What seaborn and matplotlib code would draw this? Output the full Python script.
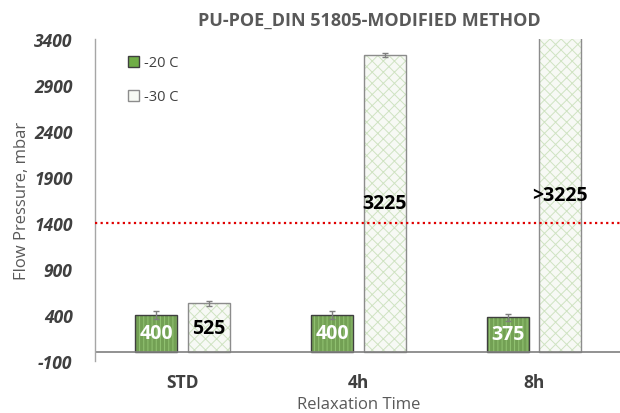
import pandas as pd
import seaborn as sns
import matplotlib.pyplot as plt
from matplotlib.patches import Patch, Rectangle

times = ["STD", "4h", "8h"]
temps = ["-20 C", "-30 C"]
p20 = [400, 400, 375]
p30 = [525, 3225, 3500]  # 8h bar runs off the top of the scale
err20 = [40, 40, 40]
err30 = [25, 20, 0]
labels20 = ["400", "400", "375"]
labels30 = ["525", "3225", ">3225"]
limit = 1400

df = pd.DataFrame({
    "time": times * 2,
    "temp": [temps[0]] * 3 + [temps[1]] * 3,
    "pressure": p20 + p30,
})

sns.set_style("white")
plt.rcParams["font.family"] = ["Open Sans", "DejaVu Sans"]
plt.rcParams["axes.unicode_minus"] = False
plt.rcParams["hatch.linewidth"] = 0.7

fig = plt.figure(figsize=(6.2, 4.14), dpi=100)
ax = fig.add_axes([0.153, 0.126, 0.85, 0.777])

fill = {"-20 C": "#70AD47", "-30 C": "#F7FAF4"}
sns.barplot(data=df, x="time", y="pressure", hue="temp", palette=fill,
            width=0.6, gap=0.2, legend=False, ax=ax)

# hatch takes the edge colour, so the outline is drawn as a separate rectangle
styles = [("#3F3F3F", "#93C472", "||||"), ("#8C8C8C", "#CFE3C2", "xxx")]
for cont, (ec, hc, hatch) in zip(ax.containers, styles):
    for p in cont:
        p.set_edgecolor(hc)
        p.set_linewidth(0)
        p.set_hatch(hatch)
        ax.add_patch(Rectangle((p.get_x(), p.get_y()), p.get_width(), p.get_height(),
                               fill=False, edgecolor=ec, linewidth=1.0, zorder=p.get_zorder() + 0.1))

# error bars on top of each bar
for cont, errs in zip(ax.containers, [err20, err30]):
    xs = [p.get_x() + p.get_width() / 2 for p in cont]
    ys = [p.get_height() for p in cont]
    ax.errorbar(xs, ys, yerr=errs, fmt="none", ecolor="#7F7F7F",
                elinewidth=1, capsize=2.5, capthick=1, zorder=5)

ax.bar_label(ax.containers[0], labels=labels20, label_type="center",
             color="white", fontsize=14, fontweight="bold")
# the clipped bar gets its label centred on the visible part
for p, lab in zip(ax.containers[1], labels30):
    top = min(p.get_height(), 3400)
    ax.text(p.get_x() + p.get_width() / 2, top / 2, lab, ha="center", va="center",
            color="black", fontsize=14, fontweight="bold", zorder=6)

ax.axhline(limit, color="#E00000", ls=(0, (1, 1.5)), lw=1.6, zorder=4)
ax.axhline(0, color="#7F7F7F", lw=1.2)

ax.set_ylim(-100, 3400)
ax.set_yticks(range(-100, 3401, 500))
ax.set_xlim(-0.5, 2.5)

for s in ["top", "right", "bottom"]:
    ax.spines[s].set_visible(False)
ax.spines["left"].set_color("#A6A6A6")
ax.spines["left"].set_linewidth(1.0)

ax.tick_params(axis="y", length=0, pad=16, labelsize=12.5, labelcolor="#404040")
ax.tick_params(axis="x", length=0, pad=9, labelsize=12.5, labelcolor="#404040")
for t in ax.get_yticklabels():
    t.set_fontweight("bold")
    t.set_fontstyle("italic")
for t in ax.get_xticklabels():
    t.set_fontweight("bold")

ax.set_xlabel("Relaxation Time", fontsize=12, color="#595959", labelpad=3)
ax.set_ylabel("Flow Pressure, mbar", fontsize=12, color="#595959", labelpad=3)
ax.set_title("PU-POE_DIN 51805-MODIFIED METHOD", fontsize=13, fontweight="bold",
             color="#595959", x=0.52, pad=10)

handles = [
    Patch(facecolor="#70AD47", edgecolor="#3F3F3F", label=temps[0]),
    Patch(facecolor="#F7FAF4", edgecolor="#8C8C8C", label=temps[1]),
]
ax.legend(handles=handles, loc="upper left", bbox_to_anchor=(0.038, 0.99),
          frameon=False, fontsize=10.5, handlelength=0.75, handleheight=0.75,
          handletextpad=0.35, labelspacing=1.3, labelcolor="#404040")

fig.savefig("out.png", dpi=100)
